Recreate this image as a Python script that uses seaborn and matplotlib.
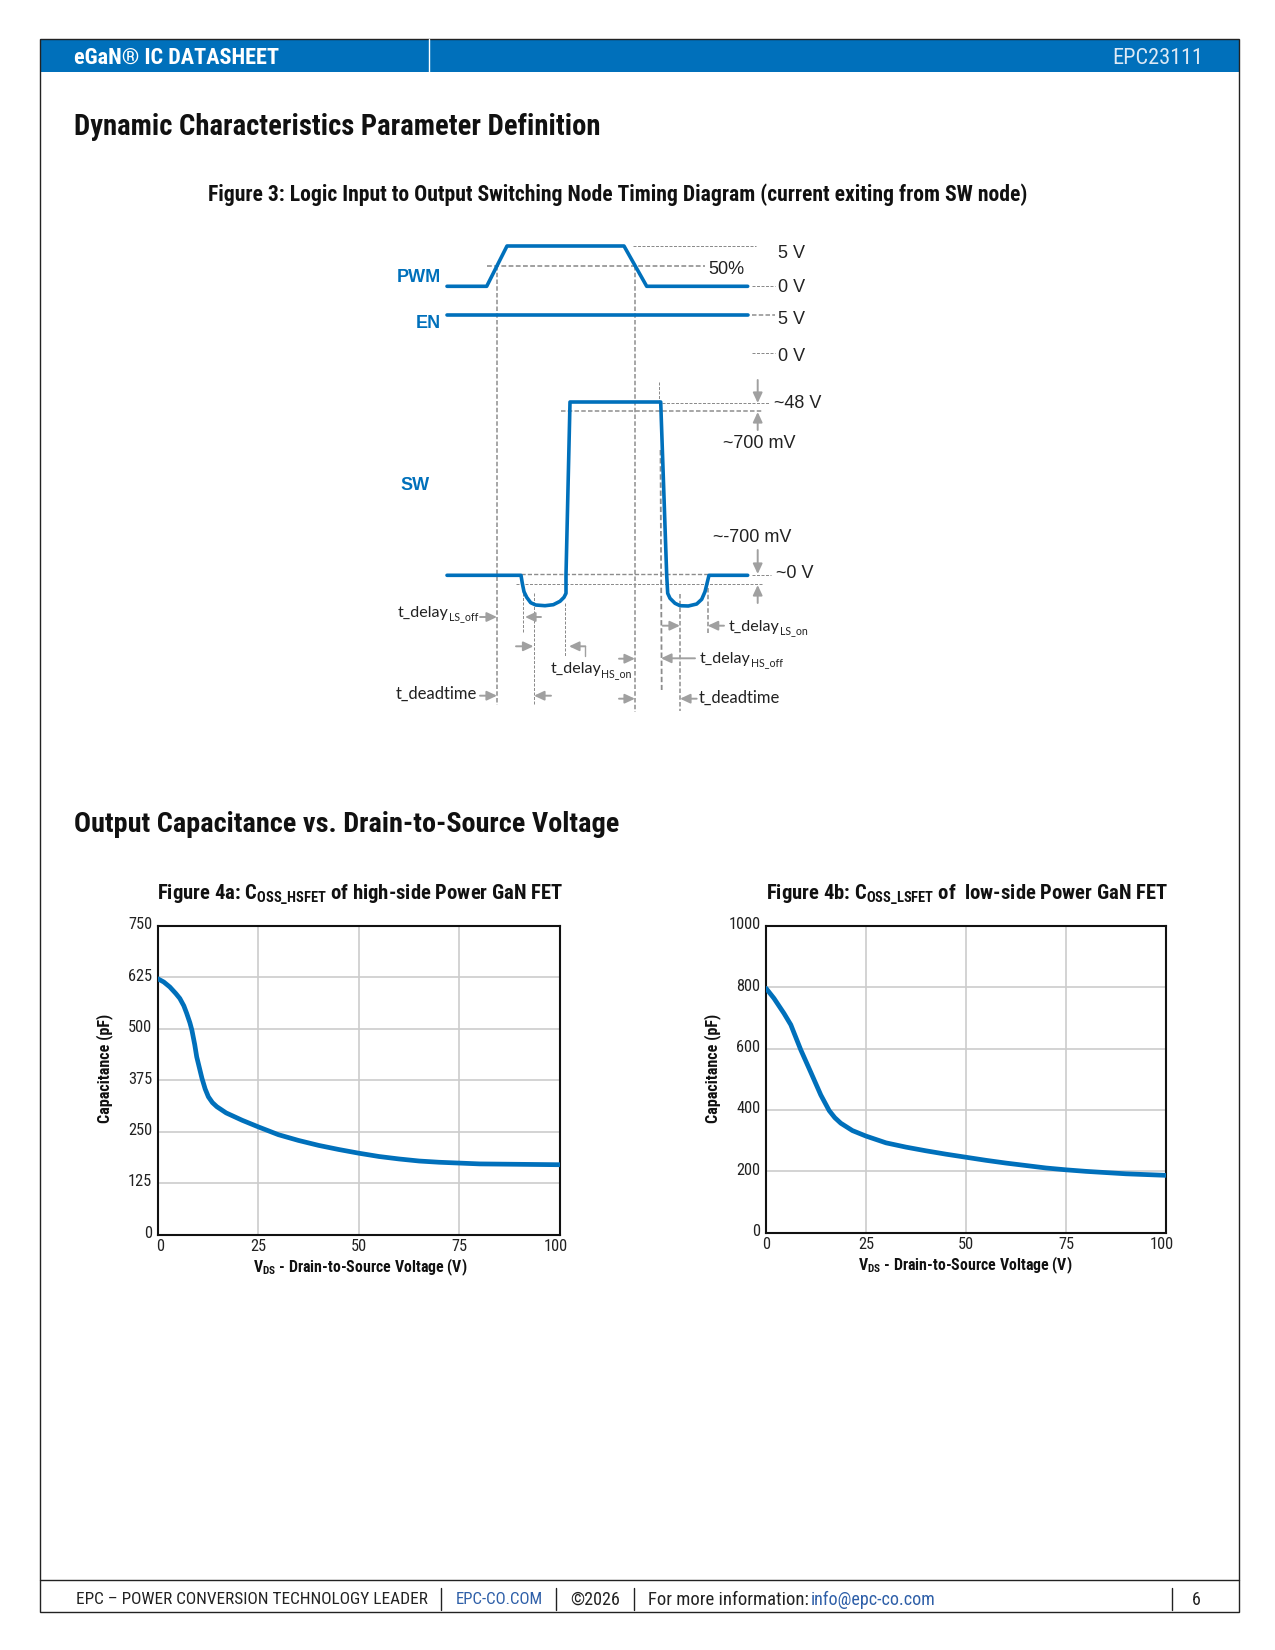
import matplotlib
matplotlib.use('Agg')
from matplotlib import pyplot as plt
from matplotlib import font_manager as fm
from matplotlib.transforms import ScaledTranslation
import seaborn as sns

W, H = 1275, 1650
BLUE = '#0070BB'
GREY = '#8C8C8C'
ARROW = '#A0A0A0'
GRID = '#CCCCCC'
LINK = '#2E5FA8'

# Figure 4a / 4b curves
hs_vds = [0, 1.5, 3, 4.5, 5.5, 6.5, 7.2, 8, 8.5, 9.2, 9.7, 10.4, 11, 11.8, 12.6, 13.6, 14.7, 17, 21, 25, 30, 35, 40, 45, 50, 55, 60, 65, 70, 75, 80, 90, 100]
hs_coss = [622, 614, 602, 586, 574, 556, 538, 515, 497, 462, 432, 404, 380, 354, 335, 321, 311, 296, 278, 262, 243, 229, 217, 207, 198, 190, 184, 179, 176, 174, 172, 171, 170]
ls_vds = [0, 2, 4.5, 6.2, 8.7, 11.2, 13.7, 15.8, 17.2, 18.7, 21.6, 25, 30, 35, 40, 45, 50, 55, 60, 65, 70, 75, 80, 85, 90, 100]
ls_coss = [797, 764, 715, 678, 596, 523, 449, 398, 375, 357, 333, 315, 293, 279, 267, 256, 246, 236, 227, 219, 211, 205, 200, 196, 192, 187]
hs_yticks = [0, 125, 250, 375, 500, 625, 750]
ls_yticks = [0, 200, 400, 600, 800, 1000]
vds_ticks = [0, 25, 50, 75, 100]

# Figure 3 waveforms, in page pixels of the diagram
pwm_x = [447, 486.7, 507, 624, 646.7, 747.7]
pwm_y = [286.3, 286.3, 246, 246, 286.3, 286.3]
en_x = [447, 747.7]
en_y = [315.3, 315.3]
sw_x = [447, 521, 522.3, 524, 526.7, 530.7, 535.7, 545, 553.3, 560, 564, 566, 566, 570, 660.7, 666.7, 667.7, 670, 675, 680, 688.3, 696.7, 701.7, 705, 709, 747.7]
sw_y = [575.3, 575.3, 583.3, 591.7, 597.3, 602.7, 605, 605.7, 604.7, 601.3, 597.3, 593.3, 575, 402, 402, 575.3, 593.3, 598.3, 603.3, 605.7, 606, 604, 599.3, 591.7, 575.3, 575.3]

# dashed guides: x0, x1, y0, y1, width
guides = [
    (633, 756, 246, 246, 1.0), (487, 705, 266, 266, 1.6), (752, 775, 286.3, 286.3, 1.0),
    (752, 775, 315, 315, 1.5), (752, 775, 353.3, 353.3, 1.0), (661.7, 769, 403, 403, 1.0),
    (561, 763, 410.7, 410.7, 1.5), (521, 709, 574, 574, 1.4), (516, 763, 584.3, 584.3, 1.0),
    (752, 771, 575.3, 575.3, 1.0), (496.7, 496.7, 266, 705, 1.5), (635, 635, 266, 711.7, 1.5),
    (659.3, 659.3, 382, 402, 1.0), (660.5, 661.7, 450, 690, 1.8), (523.3, 523.3, 593, 633, 1.0),
    (533.7, 533.7, 593, 704, 1.0), (565.3, 565.3, 603, 656, 1.0), (680, 680, 594, 710.7, 1.5),
    (707.7, 707.7, 588, 633, 1.5),
]
# arrows: from x, from y, to x, to y
arrows = [
    (757.7, 380, 757.7, 403), (757.7, 430, 757.7, 412), (757.7, 550, 757.7, 574), (757.7, 603, 757.7, 585),
    (480, 617, 497, 617), (541, 617, 525, 617), (516, 646.3, 533.5, 646.3), (585.3, 646.3, 569, 646.3),
    (619, 658.7, 635, 658.7), (695, 658.3, 661, 658.3), (662.7, 625.7, 680, 625.7), (724, 625.7, 707.7, 625.7),
    (480, 695.7, 497, 695.7), (551, 695.7, 534, 695.7), (619, 698.7, 635, 698.7), (696.7, 698.7, 680, 698.7),
]
level_labels = [
    ('5 V', 778, 254), ('50%', 708.7, 269.5), ('0 V', 778, 288), ('5 V', 778, 320), ('0 V', 778, 356.5),
    ('~48 V', 774, 403.5), ('~700 mV', 723, 444), ('~-700 mV', 713, 538), ('~0 V', 776, 573),
]
signal_labels = [('PWM', 441, 277.5), ('EN', 441, 324), ('SW', 430, 485)]
timing_main = [('t_delay', 398, 617), ('t_delay', 728.3, 630.5), ('t_delay', 550.7, 673.3), ('t_delay', 699.3, 662.7)]
timing_dead = [('t_deadtime', 396, 699), ('t_deadtime', 699, 703)]
timing_subs = [('LS_off', 449, 620.5), ('LS_on', 780, 634), ('HS_on', 601.5, 677), ('HS_off', 750.5, 666.5)]

installed = {f.name for f in fm.fontManager.ttflist}
NARROW = next((n for n in ['Liberation Sans Narrow', 'Roboto Condensed', 'Open Sans Condensed', 'Noto Sans'] if n in installed), 'DejaVu Sans')

sns.set_style('white')
plt.rcParams['font.family'] = [NARROW, 'DejaVu Sans']
plt.rcParams['mathtext.default'] = 'regular'

fig = plt.figure(figsize=(W / 100, H / 100), dpi=100)


def panel(left, top, right, bottom):
    return fig.add_axes([left / W, 1 - bottom / H, (right - left) / W, (bottom - top) / H])


page = panel(0, 0, W, H)
page.set_xlim(0, W)
page.set_ylim(H, 0)
page.axis('off')

# page furniture
page.add_patch(plt.Rectangle((39.5, 39), 1199, 33, color=BLUE, lw=0))
page.add_patch(plt.Rectangle((39.5, 39), 1199, 1573, fill=False, ec='#222222', lw=1))
page.plot([429, 429], [39, 72], color='white', lw=1)
page.plot([39.5, 1238.5], [1580, 1580], color='#222222', lw=1)
for xs in [441, 556, 634, 1172]:
    page.plot([xs, xs], [1588, 1610], color='#222222', lw=1)

page.text(74, 58, 'eGaN® IC DATASHEET', color='white', fontsize=16, fontweight='bold', va='center')
page.text(1203, 58, 'EPC23111', color='#DCE9F5', fontsize=16, va='center', ha='right')
page.text(74, 127, 'Dynamic Characteristics Parameter Definition', fontsize=20.6, fontweight='bold', va='center', color='#111111')
page.text(618, 195, 'Figure 3: Logic Input to Output Switching Node Timing Diagram (current exiting from SW node)', fontsize=15.6, fontweight='bold', va='center', ha='center', color='#111111')
page.text(74, 824, 'Output Capacitance vs. Drain-to-Source Voltage', fontsize=20.3, fontweight='bold', va='center', color='#111111')

page.text(76, 1600, 'EPC – POWER CONVERSION TECHNOLOGY LEADER', fontsize=12.4, va='center', color='#222222')
page.text(456, 1600, 'EPC-CO.COM', fontsize=12.1, va='center', color=LINK)
page.text(570, 1600, '©2026', fontsize=13, va='center', color='#222222')
page.text(648, 1600, 'For more information:', fontsize=13.5, va='center', color='#222222')
page.text(811, 1600, 'info@epc-co.com', fontsize=13, va='center', color=LINK)
page.text(1196, 1600, '6', fontsize=13, va='center', ha='center', color='#222222')

# timing diagram
for x0, x1, y0, y1, lw in guides:
    page.plot([x0, x1], [y0, y1], color=GREY, lw=lw * 0.72, ls=(0, (3, 1.5)))
for name, xs, ys in [('PWM', pwm_x, pwm_y), ('EN', en_x, en_y), ('SW', sw_x, sw_y)]:
    sns.lineplot(x=xs, y=ys, ax=page, sort=False, estimator=None, color=BLUE, lw=2.6, solid_joinstyle='round')
page.plot([585.3, 585.3], [655.7, 646.3], color=ARROW, lw=1)
for x0, y0, x1, y1 in arrows:
    page.annotate('', xy=(x1, y1), xytext=(x0, y0),
                  arrowprops=dict(arrowstyle='-|>,head_width=0.28,head_length=0.6', color=ARROW, lw=1.4, shrinkA=0, shrinkB=0))
for s, x, y in level_labels:
    page.text(x, y, s, family=['Liberation Sans'], fontsize=13, va='center', color='#222222')
for s, x, y in signal_labels:
    page.text(x, y, s, family=['Liberation Sans'], fontsize=13, fontweight='bold', va='center', ha='right', color=BLUE)
for s, x, y in timing_main:
    page.text(x, y, s, family=['Lato'], fontsize=11.6, va='baseline', color='#222222')
for s, x, y in timing_dead:
    page.text(x, y, s, family=['Lato'], fontsize=12, va='baseline', color='#222222')
for s, x, y in timing_subs:
    page.text(x, y, s, family=['Lato'], fontsize=7.6, va='baseline', color='#222222')


def capacitance_panel(box, xs, ys, yticks, title, title_xy, xlabel_xy, ylabel_xy, zero_shift):
    ax = panel(*box)
    sns.lineplot(x=xs, y=ys, ax=ax, color=BLUE, lw=3.4, estimator=None, sort=False, solid_joinstyle='round', zorder=4)
    ax.set_xlim(0, 100)
    ax.set_ylim(0, yticks[-1])
    ax.set_xticks(vds_ticks)
    ax.set_yticks(yticks)
    ax.grid(True, color=GRID, lw=1.2)
    ax.tick_params(length=0, labelsize=11.8, labelcolor='#222222')
    ax.tick_params(axis='x', pad=3)
    ax.tick_params(axis='y', pad=4)
    for spine in ax.spines.values():
        spine.set_visible(True)
        spine.set_color('#111111')
        spine.set_linewidth(1.5)
    up = ScaledTranslation(0, 2 / 72, fig.dpi_scale_trans)
    for t in ax.get_yticklabels():
        t.set_transform(t.get_transform() + up)
    xt = ax.get_xticklabels()
    xt[0].set_transform(xt[0].get_transform() + ScaledTranslation(zero_shift / 72, 0, fig.dpi_scale_trans))
    xt[-1].set_transform(xt[-1].get_transform() + ScaledTranslation(-3 / 72, 0, fig.dpi_scale_trans))
    page.text(title_xy[0], title_xy[1], title, fontsize=14.9, fontweight='bold', va='center', color='#111111')
    page.text(xlabel_xy[0], xlabel_xy[1], 'V$_{DS}$ - Drain-to-Source Voltage (V)', fontsize=11.4, fontweight='bold', ha='center', va='center', color='#111111')
    page.text(ylabel_xy[0], ylabel_xy[1], 'Capacitance (pF)', fontsize=11.6, fontweight='bold', rotation=90, ha='center', va='center', color='#111111')
    return ax


capacitance_panel((157.7, 926, 560, 1234.7), hs_vds, hs_coss, hs_yticks,
                  'Figure 4a: C$_{OSS\\_HSFET}$ of high-side Power GaN FET', (157, 895), (360, 1267), (105, 1068), 2)
capacitance_panel((766, 926, 1166, 1232.7), ls_vds, ls_coss, ls_yticks,
                  'Figure 4b: C$_{OSS\\_LSFET}$ of  low-side Power GaN FET', (766, 895), (965, 1265), (712.5, 1068), 0)

fig.savefig('out.png', dpi=100)
